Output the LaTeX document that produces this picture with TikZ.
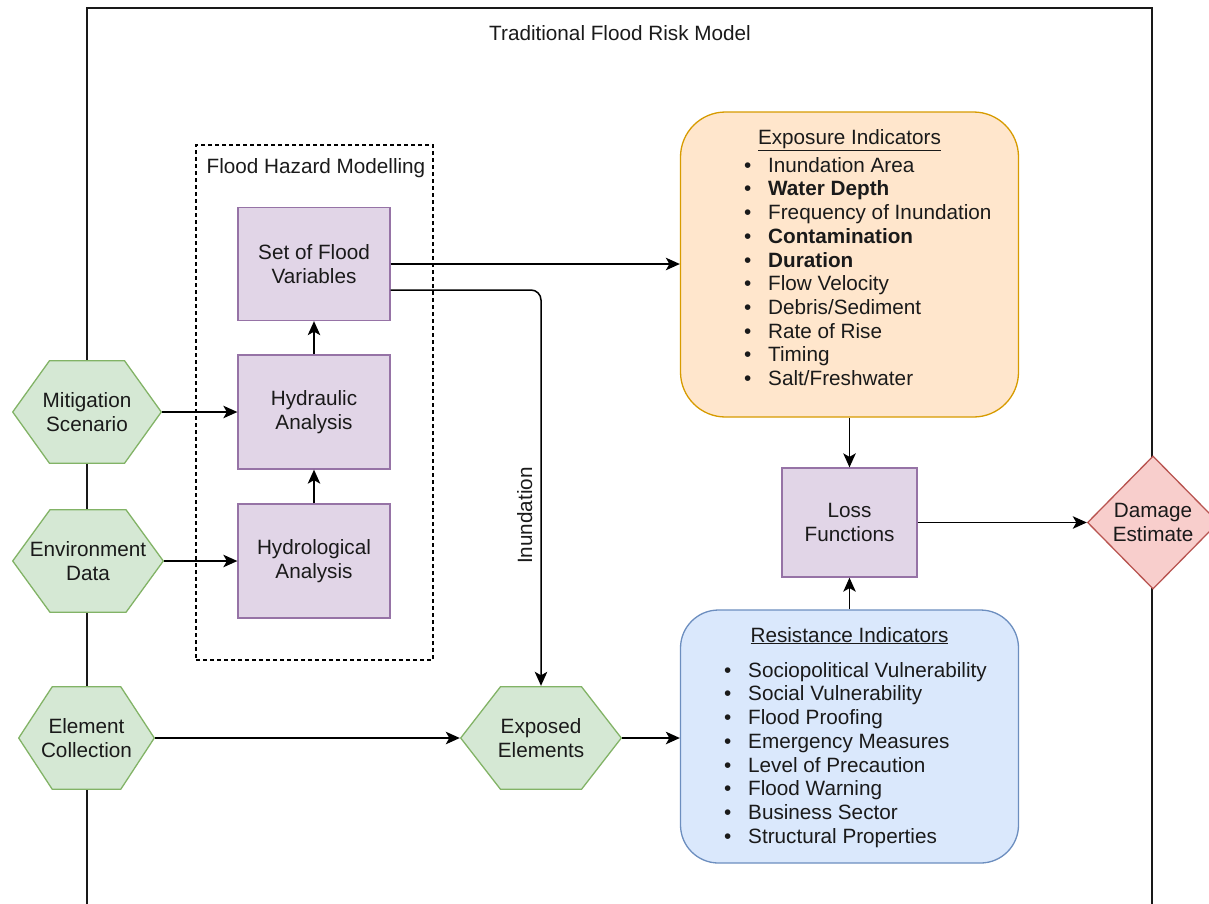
\documentclass[tikz,border=0pt]{standalone}
\usepackage{fontspec}
\setmainfont{Liberation Sans}
\usetikzlibrary{arrows.meta,calc}

\definecolor{ink}{HTML}{1A1A1A}
\definecolor{greenfill}{HTML}{D5E8D4}
\definecolor{greenline}{HTML}{82B366}
\definecolor{purplefill}{HTML}{E1D5E7}
\definecolor{purpleline}{HTML}{9673A6}
\definecolor{orangefill}{HTML}{FFE6CC}
\definecolor{orangeline}{HTML}{D79B00}
\definecolor{bluefill}{HTML}{DAE8FC}
\definecolor{blueline}{HTML}{6C8EBF}
\definecolor{redfill}{HTML}{F8CECC}
\definecolor{redline}{HTML}{B85450}

% bullet followed by a fixed gap before the item text
\newcommand\bul{\makebox[24pt][l]{•}}
% strut fixing the height of the first list line
\newcommand\firstline{\rule{0pt}{16pt}}

\begin{document}
\begin{tikzpicture}[x=1pt,y=-1pt,
  font=\fontsize{20.7}{24}\selectfont, text=ink,
  procbox/.style={rectangle, draw=purpleline, fill=purplefill, line width=1.3pt,
    minimum width=152pt, minimum height=114pt, inner sep=0pt, align=center},
  hexbox/.style={rectangle, minimum width=#1, minimum height=104pt, inner sep=0pt,
    align=center,
    path picture={
      \filldraw[fill=greenfill, draw=greenline, line width=1.3pt]
        let \p1=(path picture bounding box.south west),
            \p2=(path picture bounding box.north east),
            \n1={0.25*(\x2-\x1)} in
        (\x1+0.7pt,{0.5*(\y1+\y2)}) -- (\x1+\n1,\y1+0.7pt) -- (\x2-\n1,\y1+0.7pt)
        -- (\x2-0.7pt,{0.5*(\y1+\y2)}) -- (\x2-\n1,\y2-0.7pt) -- (\x1+\n1,\y2-0.7pt)
        -- cycle;
    }},
  diamondbox/.style={rectangle, minimum width=132pt, minimum height=134pt,
    inner sep=0pt, align=center,
    path picture={
      \filldraw[fill=redfill, draw=redline, line width=1.3pt]
        let \p1=(path picture bounding box.south west),
            \p2=(path picture bounding box.north east) in
        (\x1+0.7pt,{0.5*(\y1+\y2)}) -- ({0.5*(\x1+\x2)},\y1+0.7pt)
        -- (\x2-0.7pt,{0.5*(\y1+\y2)}) -- ({0.5*(\x1+\x2)},\y2-0.7pt) -- cycle;
    }},
  indicbox/.style={rectangle, line width=1.3pt, minimum width=338pt, inner sep=0pt},
  itemlist/.style={anchor=north west, align=left, inner sep=0pt,
    font=\fontsize{20.7}{23.7}\selectfont},
  arr/.style={-{Stealth[length=14pt,width=12.5pt,inset=3.5pt]}, line width=1.5pt, draw=black},
  frameline/.style={line width=2pt, draw=black!90}
]
\useasboundingbox (0,0) rectangle (1209,903);
\clip (0,0) rectangle (1209,903);

% open outer frame of the model
\draw[frameline] (87,912) -- (87,8) -- (1152,8) -- (1152,912);
\node (title) at (620,33) {Traditional Flood Risk Model};

% flood hazard modelling group
\node[draw, dashed, dash pattern=on 4pt off 3pt, line width=1.3pt,
      minimum width=237pt, minimum height=515pt] (hazard) at (314.5,402.5) {};
\node (hazardlbl) at (316,168) {Flood Hazard Modelling};

\node[procbox, minimum height=113pt] (setv) at (314,264) {Set of Flood\\Variables};
\node[procbox] (hydra) at (314,412) {Hydraulic\\Analysis};
\node[procbox] (hydro) at (314,561) {Hydrological\\Analysis};

% inputs
\node[hexbox=150pt] (mitig) at (87,412) {Mitigation\\Scenario};
\node[hexbox=152pt] (envd) at (88,561) {Environment\\Data};
\node[hexbox=137pt] (elemc) at (86.5,738) {Element\\Collection};
\node[hexbox=162pt] (expel) at (541,738) {Exposed\\Elements};

% indicator panels
\node[indicbox, draw=orangeline, fill=orangefill, minimum height=305pt,
      rounded corners=45pt] (expo) at (849.5,264.5) {};
\node[anchor=base, inner sep=0pt] (expotitle) at (849.5,144) {\underline{Exposure Indicators}};
\node[itemlist] (expolist) at (744,156) {%
  \firstline\bul Inundation Area\\
  \bul\textbf{Water Depth}\\
  \bul Frequency of Inundation\\
  \bul\textbf{Contamination}\\
  \bul\textbf{Duration}\\
  \bul Flow Velocity\\
  \bul Debris/Sediment\\
  \bul Rate of Rise\\
  \bul Timing\\
  \bul Salt/Freshwater};

\node[indicbox, draw=blueline, fill=bluefill, minimum height=253pt,
      rounded corners=38pt] (resi) at (849.5,736.5) {};
\node[anchor=base, inner sep=0pt] (resititle) at (849.5,642) {\underline{Resistance Indicators}};
\node[itemlist] (resilist) at (724,661) {%
  \firstline\bul Sociopolitical Vulnerability\\
  \bul Social Vulnerability\\
  \bul Flood Proofing\\
  \bul Emergency Measures\\
  \bul Level of Precaution\\
  \bul Flood Warning\\
  \bul Business Sector\\
  \bul Structural Properties};

\node[procbox, minimum width=135pt, minimum height=109pt] (loss) at (849.5,522.5) {Loss\\Functions};
\node[diamondbox] (dmg) at (1153,522.5) {Damage\\Estimate};

% connectors
\draw[arr] (mitig.east) -- (mitig.east -| hydra.west);
\draw[arr] (envd.east) -- (envd.east -| hydro.west);
\draw[arr] (hydro.north) -- (hydra.south);
\draw[arr] (hydra.north) -- (setv.south);
\draw[arr] (setv.east) -- (setv.east -| expo.west);
\draw[arr, rounded corners=10pt] ([yshift=-26pt]setv.east) -| (expel.north)
  node[pos=0.785, rotate=90, anchor=south, inner sep=8pt] (inundlbl) {Inundation};
\draw[arr] (elemc.east) -- (expel.west);
\draw[arr] (expel.east) -- (expel.east -| resi.west);
\draw[arr] (expo.south) -- (loss.north);
\draw[arr] (resi.north) -- (loss.south);
\draw[arr] (loss.east) -- (loss.east -| dmg.west);
\end{tikzpicture}
\end{document}
